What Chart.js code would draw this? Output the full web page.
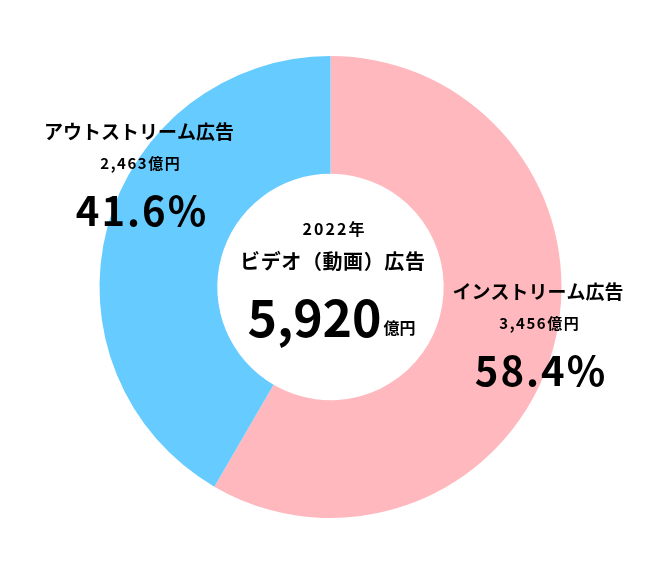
<!DOCTYPE html>
<html lang="ja">
<head>
<meta charset="utf-8">
<title>ビデオ（動画）広告 2022年</title>
<script src="https://cdn.jsdelivr.net/npm/chart.js@4"></script>
<style>
  html, body { margin: 0; padding: 0; background: #fff; }
  #wrap { width: 661px; height: 575px; }
</style>
</head>
<body>
<div id="wrap"><canvas id="chart"></canvas></div>
<script>
// ---- Data ----
const categories = ["インストリーム広告", "アウトストリーム広告"];
const amounts = [3456, 2463];           // 億円
const amountLabels = ["3,456億円", "2,463億円"];
const shareLabels = ["58.4%", "41.6%"];
const segmentColors = ["#FFB8BD", "#66CBFF"];
const centerYear = "2022年";
const centerTitle = "ビデオ（動画）広告";
const centerTotal = "5,920";
const unit = "億円";

const FONT = '"Noto Sans CJK JP", "Noto Sans", sans-serif';

// draw text with optional letter spacing, centred on x
function drawText(ctx, text, x, y, font, spacing) {
  ctx.font = font;
  ctx.letterSpacing = (spacing || 0) + "px";
  ctx.fillText(text, x + (spacing || 0) / 2, y);
  ctx.letterSpacing = "0px";
}

// ---- Text plugin ----
const labelPlugin = {
  id: "labels",
  afterDraw(chart) {
    const ctx = chart.ctx;
    const arc = chart.getDatasetMeta(0).data[0];
    const cx = arc.x, cy = arc.y;
    ctx.save();
    ctx.fillStyle = "#000";
    ctx.textAlign = "center";
    ctx.textBaseline = "middle";

    // center
    drawText(ctx, centerYear, cx + 3, cy - 58, "bold 16px " + FONT, 2);
    drawText(ctx, centerTitle, cx + 2, cy - 26, "bold 20px " + FONT, 0.6);

    ctx.font = "bold 50px " + FONT;
    const totalW = ctx.measureText(centerTotal).width;
    ctx.font = "bold 16px " + FONT;
    const unitW = ctx.measureText(unit).width;
    const startX = cx + 1 - (totalW + unitW + 2) / 2;
    ctx.textAlign = "left";
    ctx.textBaseline = "alphabetic";
    ctx.font = "bold 50px " + FONT;
    ctx.fillText(centerTotal, startX, cy + 50);
    ctx.font = "bold 16px " + FONT;
    ctx.fillText(unit, startX + totalW + 2, cy + 47);

    // outer labels
    const spots = [
      { x: 538, y: 292 },
      { x: 139, y: 132 }
    ];
    ctx.textAlign = "center";
    ctx.textBaseline = "middle";
    categories.forEach((name, i) => {
      const p = spots[i];
      drawText(ctx, name, p.x, p.y, "bold 19px " + FONT, 0);
      drawText(ctx, amountLabels[i], p.x + 1, p.y + 31, "bold 15px " + FONT, 1.5);
      drawText(ctx, shareLabels[i], p.x + 2, p.y + 79, "bold 40px " + FONT, 2);
    });
    ctx.restore();
  }
};

new Chart(document.getElementById("chart"), {
  type: "doughnut",
  data: {
    labels: categories,
    datasets: [{
      data: amounts,
      backgroundColor: segmentColors,
      borderWidth: 0,
      hoverOffset: 0
    }]
  },
  options: {
    responsive: true,
    maintainAspectRatio: false,
    animation: false,
    cutout: "49%",
    layout: { padding: { top: 56, bottom: 57, left: 0, right: 0 } },
    plugins: {
      legend: { display: false },
      tooltip: { enabled: false }
    }
  },
  plugins: [labelPlugin]
});
</script>
</body>
</html>
